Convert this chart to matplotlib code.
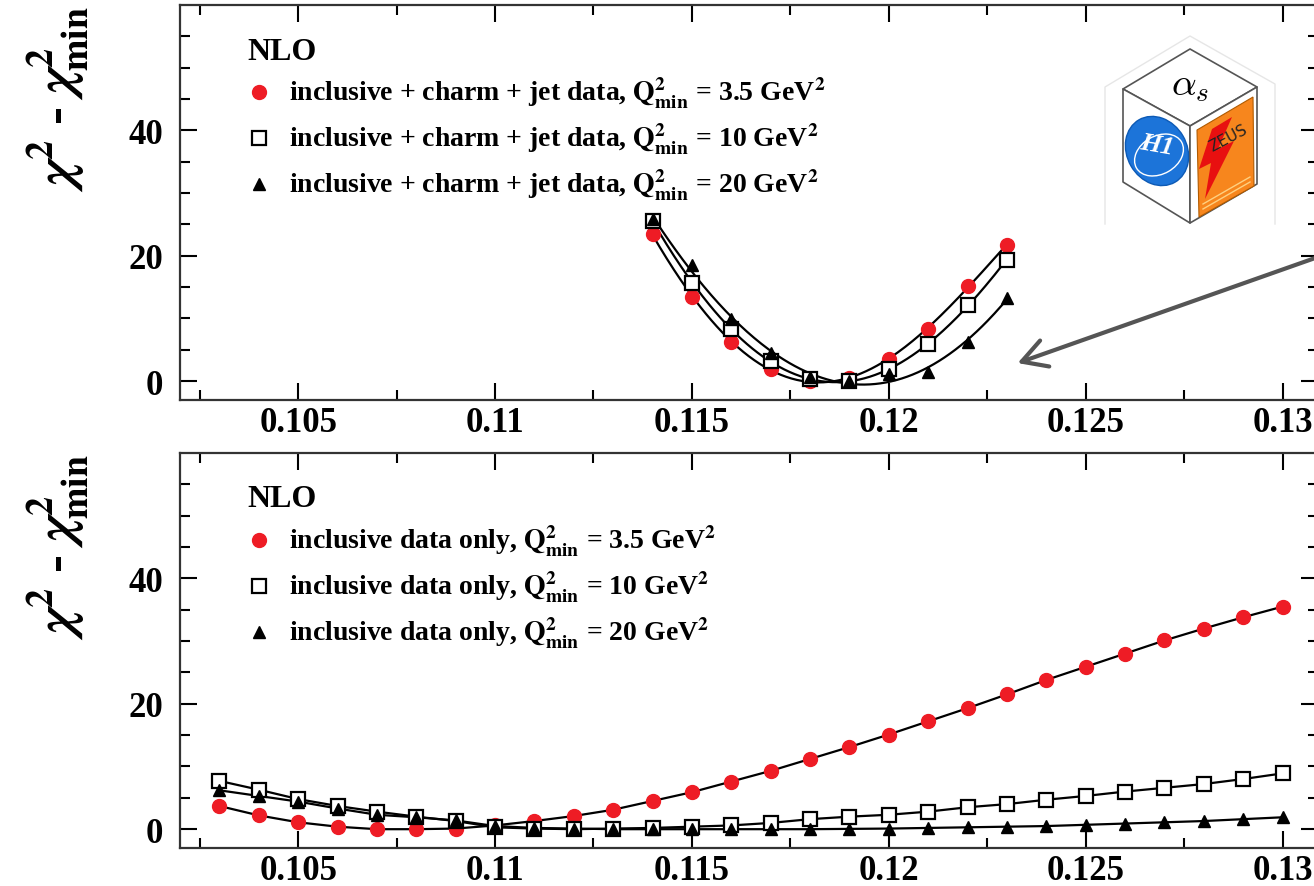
import numpy as np
import matplotlib
matplotlib.use("Agg")
import matplotlib.pyplot as plt
from matplotlib.patches import Polygon, Ellipse

plt.rcParams["font.family"] = ["Liberation Serif", "DejaVu Serif"]
plt.rcParams["font.weight"] = "bold"
plt.rcParams["mathtext.fontset"] = "stix"

# ---- data: chi2 - chi2_min vs alpha_s ----
# top panel: inclusive + charm + jet data
x_top = [0.114, 0.115, 0.116, 0.117, 0.118, 0.119, 0.120, 0.121, 0.122, 0.123]
top_q35 = [23.4, 13.5, 6.3, 1.9, 0.0, 0.5, 3.5, 8.4, 15.2, 21.7]
top_q10 = [25.6, 15.7, 8.3, 3.2, 0.3, 0.0, 1.9, 5.9, 12.1, 19.4]
top_q20 = [25.9, 18.5, 9.9, 4.5, 0.6, 0.0, 1.1, 1.4, 6.3, 13.3]

# bottom panel: inclusive data only
x_bot = [0.103, 0.104, 0.105, 0.106, 0.107, 0.108, 0.109, 0.110, 0.111, 0.112,
         0.113, 0.114, 0.115, 0.116, 0.117, 0.118, 0.119, 0.120, 0.121, 0.122,
         0.123, 0.124, 0.125, 0.126, 0.127, 0.128, 0.129, 0.130]
bot_q35 = [3.7, 2.2, 1.1, 0.4, 0.0, 0.0, 0.1, 0.6, 1.3, 2.1,
           3.1, 4.5, 5.9, 7.6, 9.3, 11.2, 13.1, 15.1, 17.2, 19.3,
           21.5, 23.8, 25.9, 28.0, 30.1, 32.0, 33.8, 35.5]
bot_q10 = [7.7, 6.3, 4.8, 3.7, 2.8, 2.0, 1.3, 0.3, 0.1, 0.0,
           0.1, 0.2, 0.4, 0.6, 1.0, 1.6, 2.0, 2.3, 2.8, 3.5,
           4.0, 4.7, 5.3, 6.0, 6.6, 7.2, 8.0, 8.9]
bot_q20 = [6.2, 5.3, 4.4, 3.3, 2.3, 1.9, 1.4, 0.5, 0.2, 0.1,
           0.0, 0.0, 0.0, 0.0, 0.0, 0.0, 0.05, 0.1, 0.2, 0.3,
           0.4, 0.5, 0.7, 0.9, 1.1, 1.3, 1.6, 1.9]

q2_labels = ["3.5", "10", "20"]
top_text = "inclusive + charm + jet data"
bot_text = "inclusive data only"

RED = "#ee1c25"
styles = [dict(marker="o", color=RED, mec=RED, ms=10),
          dict(marker="s", color="white", mec="black", mew=1.6, ms=10.5),
          dict(marker="^", color="black", mec="black", ms=9)]

W, H = 1314, 887
fig = plt.figure(figsize=(W / 100, H / 100), dpi=100)


def px_box(left, top, right, bottom):
    return [left / W, 1 - bottom / H, (right - left) / W, (bottom - top) / H]


ax_top = fig.add_axes(px_box(180, 6, 1318, 401))
ax_bot = fig.add_axes(px_box(180, 454, 1318, 849))


def style_axes(ax):
    ax.set_xlim(0.1020, 0.1309)
    ax.set_ylim(-3, 60)
    ax.set_xticks([0.105, 0.11, 0.115, 0.12, 0.125, 0.13])
    ax.set_xticklabels(["0.105", "0.11", "0.115", "0.12", "0.125", "0.13"])
    ax.set_xticks(np.arange(0.1025, 0.131, 0.0025), minor=True)
    ax.set_yticks([0, 20, 40])
    ax.set_yticks(np.arange(0, 60, 5), minor=True)
    ax.tick_params(which="both", direction="in", top=True, right=True, width=1.5)
    ax.tick_params(which="major", length=12, labelsize=25, pad=4)
    ax.tick_params(which="minor", length=7)
    ax.tick_params(axis="y", pad=12)
    for sp in ax.spines.values():
        sp.set_linewidth(1.6)
        sp.set_color("#333333")
    ax.text(-0.108, 1.0, r"$\chi^{\mathbf{2}}$ - $\chi^{\mathbf{2}}_{\mathbf{min}}$",
            transform=ax.transAxes, rotation=90, ha="center", va="top", fontsize=39)


def legend(ax, label):
    def frac(px, py):
        return (px - 180) / 1138, 1 - (py - 6) / 395
    ax.text(*frac(247, 52), "NLO", transform=ax.transAxes, fontsize=23,
            ha="left", va="center")
    for i, (st, q) in enumerate(zip(styles, q2_labels)):
        yy = 93 + 46 * i
        ax.plot(*frac(259, yy), transform=ax.transAxes, linestyle="none", **st)
        ax.text(*frac(289, yy),
                label + r", $\mathbf{Q}^{\mathbf{2}}_{\mathbf{min}}$ = " + q + r" GeV$^{\mathbf{2}}$",
                transform=ax.transAxes, fontsize=20, ha="left", va="center")


# top panel: smooth fitted curves through the scan points
xt = np.array(x_top)
xf = np.linspace(xt.min(), xt.max(), 200)
for ys in [top_q35, top_q10, top_q20]:
    coef = np.polyfit(xt, ys, 4)
    ax_top.plot(xf, np.polyval(coef, xf), color="black", lw=1.6, zorder=2)
for ys, st in zip([top_q35, top_q10, top_q20], styles):
    ax_top.plot(x_top, ys, linestyle="none", zorder=3, **st)

# bottom panel
for ys in [bot_q35, bot_q10, bot_q20]:
    ax_bot.plot(x_bot, ys, color="black", lw=1.6, zorder=2)
for ys, st in zip([bot_q35, bot_q10, bot_q20], styles):
    ax_bot.plot(x_bot, ys, linestyle="none", zorder=3, **st)

for ax, lab in [(ax_top, top_text), (ax_bot, bot_text)]:
    style_axes(ax)
    legend(ax, lab)

# ---- alpha_s cube logo ----
lg = fig.add_axes(px_box(1100, 32, 1290, 232))
lg.set_xlim(1100, 1290)
lg.set_ylim(232, 32)
lg.axis("off")
lg.plot([1105, 1105, 1190, 1275, 1275], [225, 88, 37, 85, 225], color="#e6e6e6", lw=1)
T, LT, RT, C = (1190, 50), (1123, 90), (1257, 88), (1190, 127)
LB, B, RB = (1123, 183), (1190, 224), (1257, 185)
for face in [[T, RT, C, LT], [LT, C, B, LB], [C, RT, RB, B]]:
    lg.add_patch(Polygon(face, closed=True, fc="white", ec="#555555", lw=1.2,
                         joinstyle="round"))
lg.text(1190, 86, r"$\alpha_s$", fontsize=28, ha="center", va="center",
        fontweight="normal", math_fontfamily="cm")
# H1
lg.add_patch(Ellipse((1157, 152), 60, 72, angle=-30, fc="#1c74d9", ec="#0d5ab5", lw=1))
lg.add_patch(Ellipse((1159, 156), 52, 38, angle=-30, fc="none", ec="white", lw=1))
lg.text(1157, 146, "H1", color="white", fontsize=19, style="italic",
        ha="center", va="center", rotation=-10)
# ZEUS
lg.add_patch(Polygon([(1197, 131), (1253, 98), (1254, 187), (1199, 218)],
                     closed=True, fc="#f7861d", ec="#b05a00", lw=0.8))
lg.add_patch(Polygon([(1212, 130), (1232, 118), (1218, 150), (1234, 142),
                      (1205, 200), (1211, 164), (1199, 170)],
                     closed=True, fc="#e81010", ec="none"))
lg.text(1228, 138, "ZEUS", fontsize=11, fontweight="normal", rotation=28,
        ha="center", va="center", color="#222222", family="DejaVu Sans")
lg.plot([1203, 1250], [205, 178], color="#ffd080", lw=1)
lg.plot([1203, 1250], [210, 183], color="#ffd080", lw=1)

# ---- arrow pointing at the curves ----
ax_top.annotate("", xy=(1015, H - 365), xycoords="figure pixels",
                xytext=(1318, H - 258), textcoords="figure pixels",
                arrowprops=dict(arrowstyle="->,head_length=0.8,head_width=0.45",
                                color="#555555", lw=3, mutation_scale=22))

fig.savefig("out.png", dpi=100)
